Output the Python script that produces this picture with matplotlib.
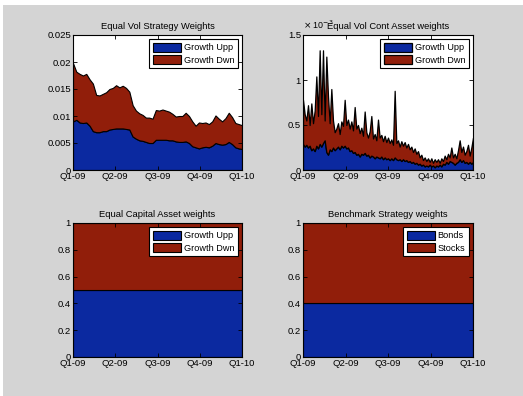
import numpy as np
import matplotlib
matplotlib.use('Agg')
import matplotlib.pyplot as plt
from matplotlib.patches import Rectangle

plt.rcParams['font.family'] = ['Liberation Sans', 'DejaVu Sans']
plt.rcParams['font.size'] = 6.8

## quarter labels on the x axis
quarters = ['Q1-09', 'Q2-09', 'Q3-09', 'Q4-09', 'Q1-10']

## Equal Vol Strategy Weights
ev_upp = [0.0090, 0.0093, 0.0088, 0.0087, 0.0088, 0.0082, 0.0072, 0.0070, 0.0070, 0.0072,
          0.0072, 0.0075, 0.0076, 0.0077, 0.0077, 0.0077, 0.0076, 0.0075, 0.0062, 0.0058,
          0.0055, 0.0054, 0.0052, 0.0050, 0.0050, 0.0056, 0.0056, 0.0056, 0.0056, 0.0055,
          0.0055, 0.0053, 0.0052, 0.0052, 0.0053, 0.0050, 0.0044, 0.0042, 0.0040, 0.0042,
          0.0043, 0.0042, 0.0045, 0.0050, 0.0048, 0.0047, 0.0048, 0.0052, 0.0048, 0.0042,
          0.0040, 0.0039]
ev_total = [0.0198, 0.0182, 0.0178, 0.0175, 0.0178, 0.0168, 0.0160, 0.0139, 0.0138, 0.0141,
            0.0144, 0.0150, 0.0152, 0.0157, 0.0153, 0.0156, 0.0152, 0.0145, 0.0120, 0.0110,
            0.0105, 0.0102, 0.0097, 0.0097, 0.0095, 0.0111, 0.0110, 0.0112, 0.0110, 0.0108,
            0.0104, 0.0099, 0.0100, 0.0100, 0.0106, 0.0100, 0.0090, 0.0082, 0.0088, 0.0087,
            0.0088, 0.0085, 0.0090, 0.0101, 0.0095, 0.0090, 0.0096, 0.0106, 0.0098, 0.0087,
            0.0085, 0.0083]

## Equal Vol Cont Asset weights, in units of 1e-3
vc_upp = [0.29, 0.26, 0.28, 0.25, 0.27, 0.22, 0.24, 0.21, 0.27, 0.24,
          0.29, 0.26, 0.30, 0.33, 0.20, 0.17, 0.23, 0.21, 0.25, 0.22,
          0.24, 0.26, 0.23, 0.27, 0.25, 0.27, 0.24, 0.25, 0.21, 0.22,
          0.19, 0.20, 0.17, 0.18, 0.15, 0.18, 0.17, 0.19, 0.16, 0.17,
          0.14, 0.16, 0.15, 0.13, 0.15, 0.14, 0.13, 0.15, 0.12, 0.14,
          0.12, 0.13, 0.11, 0.13, 0.11, 0.14, 0.12, 0.11, 0.12, 0.10,
          0.12, 0.10, 0.11, 0.09, 0.10, 0.08, 0.09, 0.07, 0.08, 0.06,
          0.07, 0.05, 0.06, 0.04, 0.05, 0.04, 0.06, 0.04, 0.05, 0.03,
          0.05, 0.04, 0.06, 0.04, 0.07, 0.06, 0.09, 0.07, 0.10, 0.09,
          0.08, 0.06, 0.08, 0.09, 0.12, 0.09, 0.11, 0.08, 0.09, 0.07,
          0.09, 0.07, 0.09]
vc_total = [0.78, 0.62, 0.55, 0.72, 0.50, 0.74, 0.52, 0.66, 1.04, 0.60,
            1.33, 0.62, 1.33, 0.55, 1.26, 0.82, 0.52, 0.90, 0.55, 0.42,
            0.46, 0.52, 0.40, 0.54, 0.49, 0.78, 0.50, 0.56, 0.46, 0.54,
            0.44, 0.70, 0.46, 0.50, 0.41, 0.47, 0.38, 0.65, 0.42, 0.36,
            0.43, 0.60, 0.35, 0.40, 0.33, 0.56, 0.36, 0.39, 0.32, 0.38,
            0.31, 0.36, 0.30, 0.34, 0.28, 0.88, 0.30, 0.33, 0.26, 0.32,
            0.27, 0.31, 0.25, 0.29, 0.23, 0.26, 0.20, 0.24, 0.18, 0.21,
            0.14, 0.17, 0.11, 0.14, 0.10, 0.13, 0.09, 0.13, 0.08, 0.12,
            0.09, 0.12, 0.08, 0.13, 0.10, 0.16, 0.12, 0.18, 0.14, 0.25,
            0.14, 0.18, 0.13, 0.22, 0.33, 0.20, 0.26, 0.17, 0.21, 0.28,
            0.16, 0.25, 0.36]

## Equal Capital and Benchmark (constant weights)
cap_upp = [0.5, 0.5]
cap_dwn = [0.5, 0.5]
bench_bonds = [0.4, 0.4]
bench_stocks = [0.6, 0.6]

blue = '#0b29a0'
red = '#911e0a'
gray = '#d4d4d4'

fig = plt.figure(figsize=(5.23, 3.96), dpi=100, facecolor='white')
fig.patches.append(Rectangle((3/523, 0), 1, 1 - 5/396, transform=fig.transFigure,
                             facecolor=gray, edgecolor='none', zorder=-10))

pos = {
    'tl': [73/523, 1-170/396, 169/523, 135/396],
    'tr': [303/523, 1-170/396, 170/523, 135/396],
    'bl': [73/523, 1-357/396, 169/523, 134/396],
    'br': [303/523, 1-357/396, 170/523, 134/396],
}


def style(ax, yticks, ylabels, ymax):
    ax.set_xlim(0, 4)
    ax.set_ylim(0, ymax)
    ax.set_xticks(range(5))
    ax.set_xticklabels(quarters)
    ax.set_yticks(yticks)
    ax.set_yticklabels(ylabels)
    ax.tick_params(direction='in', length=3, width=0.6, top=True, right=True, pad=1.5)
    for s in ax.spines.values():
        s.set_linewidth(0.8)
    ax.set_facecolor('white')


def legend(ax, labels):
    leg = ax.legend(labels, loc='upper right', fancybox=False, framealpha=1,
                    edgecolor='k', borderpad=0.4, labelspacing=0.3, handlelength=3.1,
                    handleheight=1.1, handletextpad=0.25, borderaxespad=0.45, fontsize=6.6)
    leg.get_frame().set_linewidth(0.8)


# top left
ax = fig.add_axes(pos['tl'])
x = np.linspace(0, 4, len(ev_upp))
ev_dwn = np.array(ev_total) - np.array(ev_upp)
ax.stackplot(x, ev_upp, ev_dwn, colors=[blue, red], edgecolor='k', linewidth=0.8)
style(ax, [0, 0.005, 0.01, 0.015, 0.02, 0.025],
      ['0', '0.005', '0.01', '0.015', '0.02', '0.025'], 0.025)
ax.set_title('Equal Vol Strategy Weights', pad=4.5, fontsize=6.75)
legend(ax, ['Growth Upp', 'Growth Dwn'])

# top right
ax = fig.add_axes(pos['tr'])
x = np.linspace(0, 4, len(vc_upp))
vc_dwn = np.array(vc_total) - np.array(vc_upp)
ax.stackplot(x, vc_upp, vc_dwn, colors=[blue, red], edgecolor='k', linewidth=0.9)
style(ax, [0, 0.5, 1, 1.5], ['0', '0.5', '1', '1.5'], 1.5)
ax.text(0, 1.03, r'$\times$ 10$^{-3}$', transform=ax.transAxes, fontsize=6.4,
        ha='left', va='bottom')
ax.set_title('Equal Vol Cont Asset weights', pad=4.5, fontsize=6.75)
legend(ax, ['Growth Upp', 'Growth Dwn'])

# bottom left
ax = fig.add_axes(pos['bl'])
x = np.linspace(0, 4, len(cap_upp))
ax.stackplot(x, cap_upp, cap_dwn, colors=[blue, red], edgecolor='k', linewidth=0.8)
style(ax, [0, 0.2, 0.4, 0.6, 0.8, 1], ['0', '0.2', '0.4', '0.6', '0.8', '1'], 1)
ax.set_title('Equal Capital Asset weights', pad=4.5, fontsize=6.75)
legend(ax, ['Growth Upp', 'Growth Dwn'])

# bottom right
ax = fig.add_axes(pos['br'])
x = np.linspace(0, 4, len(bench_bonds))
ax.stackplot(x, bench_bonds, bench_stocks, colors=[blue, red], edgecolor='k', linewidth=0.8)
style(ax, [0, 0.2, 0.4, 0.6, 0.8, 1], ['0', '0.2', '0.4', '0.6', '0.8', '1'], 1)
ax.set_title('Benchmark Strategy weights', pad=4.5, fontsize=6.75)
legend(ax, ['Bonds', 'Stocks'])

fig.savefig('out.png', dpi=100, facecolor=fig.get_facecolor())
